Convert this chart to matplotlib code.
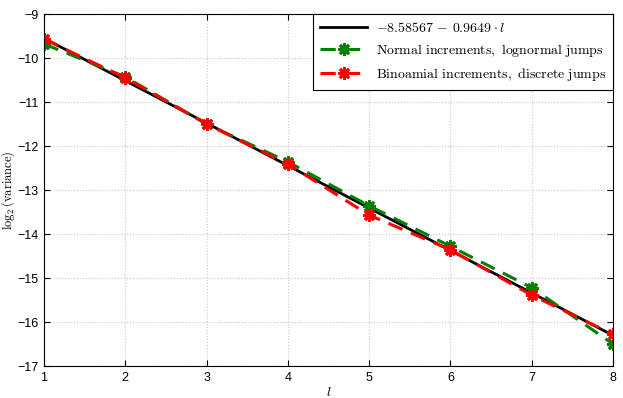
import numpy as np
import matplotlib
matplotlib.use('Agg')
import matplotlib.pyplot as plt

plt.rcParams['mathtext.fontset'] = 'cm'
plt.rcParams['font.family'] = ['Liberation Sans', 'DejaVu Sans']

levels = [1, 2, 3, 4, 5, 6, 7, 8]
normal_lognormal = [-9.68, -10.43, -11.50, -12.36, -13.36, -14.28, -15.22, -16.50]
binomial_discrete = [-9.57, -10.45, -11.50, -12.41, -13.57, -14.36, -15.39, -16.28]
fit_a, fit_b = -8.58567, -0.9649

fig = plt.figure(figsize=(6.23, 3.98), dpi=100)
ax = fig.add_axes([0.0706, 0.0804, 0.9134, 0.8844])

l = np.array(levels)
ax.plot(l, fit_a + fit_b * l, color='black', lw=2,
        label=r'$-8.58567\,-\,0.9649\cdot l$')
ax.plot(levels, normal_lognormal, color='green', ls='--', dashes=(5, 3), lw=2.2,
        marker=(8, 2, 0), ms=9, mew=2,
        label=r'$\mathrm{Normal\ increments,\ lognormal\ jumps}$')
ax.plot(levels, binomial_discrete, color='red', ls='--', dashes=(5, 3), lw=2.2,
        marker=(8, 2, 0), ms=9, mew=2,
        label=r'$\mathrm{Binoamial\ increments,\ discrete\ jumps}$')

ax.set_xlim(1, 8)
ax.set_ylim(-17, -9)
ax.set_xticks(range(1, 9))
ax.set_yticks(range(-17, -8))
ax.set_yticklabels([f'\u2212{abs(v)}' for v in range(-17, -8)])
ax.tick_params(direction='in', labelsize=9, top=True, right=True, length=4, pad=4)
ax.grid(True, linestyle=':', color='#c8c8c8', lw=0.8)
ax.set_xlabel(r'$l$', fontsize=10, labelpad=1)
ax.set_ylabel(r'$\log_2(\mathrm{variance})$', fontsize=9, labelpad=0)

leg = ax.legend(loc='upper right', fontsize=10, fancybox=False, edgecolor='black',
                framealpha=1, borderaxespad=0.0, handlelength=3.4,
                borderpad=0.5, labelspacing=0.5, handletextpad=0.6)
leg.get_frame().set_linewidth(0.8)

fig.savefig('out.png', dpi=100)
